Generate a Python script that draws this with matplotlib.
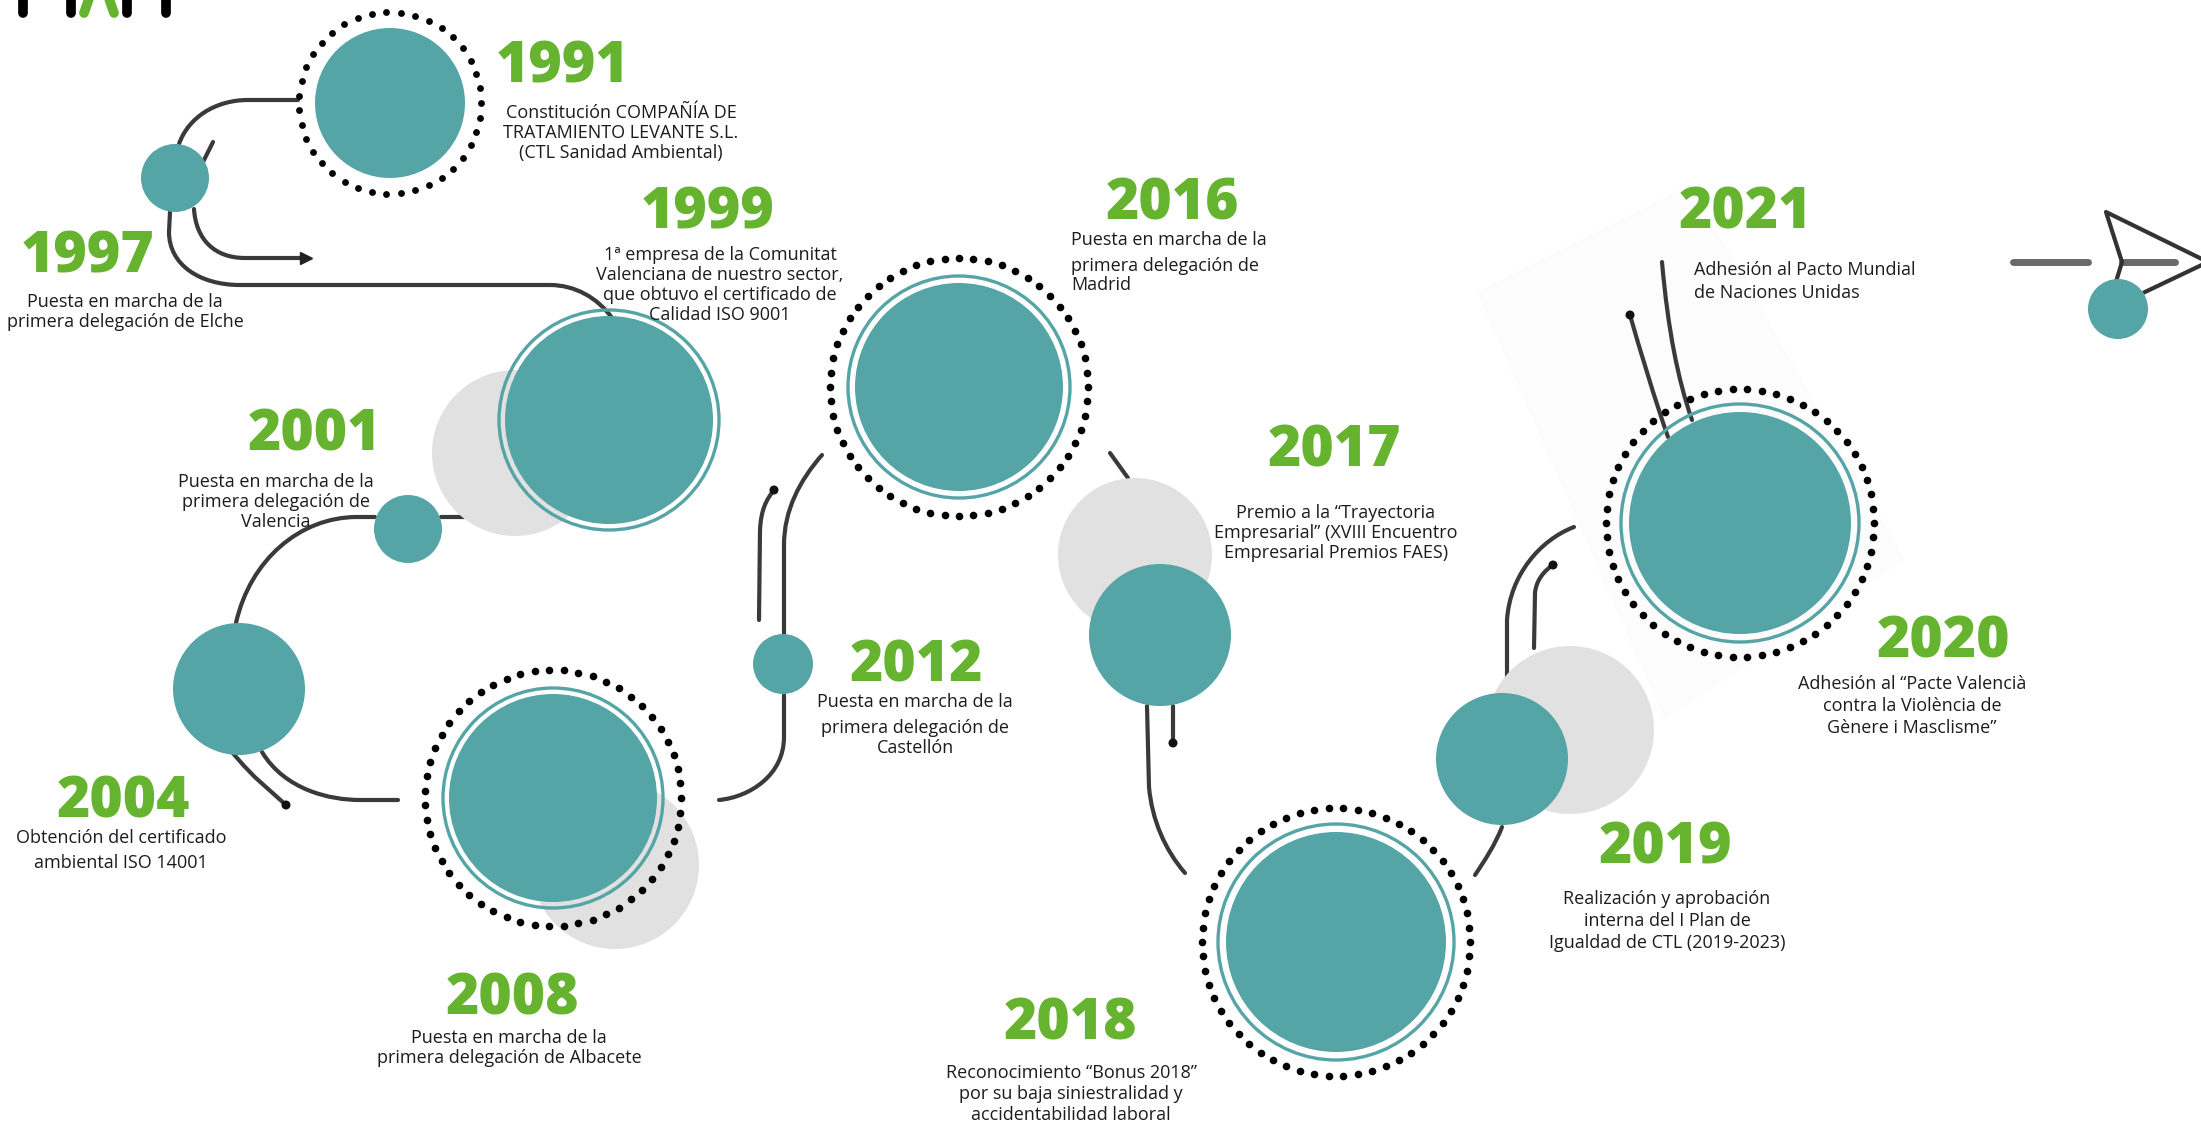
import numpy as np
import matplotlib.pyplot as plt
from matplotlib.patches import Circle, Polygon, PathPatch
from matplotlib.path import Path

# colours
TEAL = '#55a4a6'
GREY = '#e1e1e1'
GREEN = '#65b32e'
LINE = '#3a3a3a'
TXT = '#1c1c1c'

#%% data
years = ['1991', '1997', '1999', '2001', '2004', '2008', '2012',
         '2016', '2017', '2018', '2019', '2020', '2021']

desc_1991 = ['Constitución COMPAÑÍA DE', 'TRATAMIENTO LEVANTE S.L.', '(CTL Sanidad Ambiental)']
desc_1997 = ['Puesta en marcha de la', 'primera delegación de Elche']
desc_1999 = ['1ª empresa de la Comunitat', 'Valenciana de nuestro sector,',
             'que obtuvo el certificado de', 'Calidad ISO 9001']
desc_2001 = ['Puesta en marcha de la', 'primera delegación de', 'Valencia']
desc_2004 = ['Obtención del certificado', 'ambiental ISO 14001']
desc_2008 = ['Puesta en marcha de la', 'primera delegación de Albacete']
desc_2012 = ['Puesta en marcha de la', 'primera delegación de', 'Castellón']
desc_2016 = ['Puesta en marcha de la', 'primera delegación de', 'Madrid']
desc_2017 = ['Premio a la “Trayectoria', 'Empresarial” (XVIII Encuentro',
             'Empresarial Premios FAES)']
desc_2018 = ['Reconocimiento “Bonus 2018”', 'por su baja siniestralidad y',
             'accidentabilidad laboral']
desc_2019 = ['Realización y aprobación', 'interna del I Plan de', 'Igualdad de CTL (2019-2023)']
desc_2020 = ['Adhesión al “Pacte Valencià', 'contra la Violència de', 'Gènere i Masclisme”']
desc_2021 = ['Adhesión al Pacto Mundial', 'de Naciones Unidas']

descs = [desc_1991, desc_1997, desc_1999, desc_2001, desc_2004, desc_2008, desc_2012,
         desc_2016, desc_2017, desc_2018, desc_2019, desc_2020, desc_2021]

#%% layout (pixel positions on the canvas)
year_xy = [(563, 68), (88, 258), (708, 214), (314, 436), (123, 803), (512, 1000), (916, 667),
           (1172, 205), (1334, 452), (1070, 1025), (1665, 849), (1943, 643), (1745, 214)]
desc_x = [621, 125, 720, 276, 121, 509, 915, 1071, 1336, 1071, 1667, 1912, 1694]
desc_ha = ['center'] * 7 + ['left'] + ['center'] * 4 + ['left']
desc_y = [[113, 133, 153], [302, 322], [255, 275, 295, 315], [482, 502, 522], [838, 863],
          [1038, 1058], [702, 728, 748], [240, 266, 285], [513, 533, 553],
          [1073, 1094, 1115], [899, 921, 943], [684, 706, 728], [270, 293]]

# big circles: x, y, r, ring radius (0 = none), dot ring radius (0 = none)
big = [(390, 103, 75, 0, 91), (609, 420, 104, 110, 0), (553, 798, 104, 110, 128),
       (959, 387, 104, 111, 129), (1336, 942, 110, 118, 134), (1740, 523, 111, 119, 134)]
small = [(175, 178, 34), (408, 529, 34), (239, 689, 66), (783, 664, 30),
         (1160, 635, 71), (1502, 759, 66), (2118, 309, 30)]
greys = [(515, 453, 83), (615, 865, 84), (1135, 555, 77), (1570, 730, 84)]

M, L, C = Path.MOVETO, Path.LINETO, Path.CURVE4
connectors = [
    ([(298, 100), (248, 100), (215, 100), (188, 118), (179, 144)], [M, L, C, C, C]),
    ([(203, 162), (213, 142)], [M, L]),
    ([(194, 209), (196, 240), (215, 258), (245, 258), (300, 258)], [M, C, C, C, L]),
    ([(170, 212), (169, 232), (169, 265), (200, 285), (240, 285), (550, 285),
      (575, 285), (598, 298), (612, 318)], [M, L, C, C, C, L, C, C, C]),
    ([(441, 517), (464, 517)], [M, L]),
    ([(375, 517), (357, 517), (300, 517), (250, 560), (236, 623)], [M, L, C, C, C]),
    ([(232, 752), (255, 780), (270, 790), (286, 805)], [M, C, C, C]),
    ([(262, 752), (285, 790), (330, 800), (360, 800), (398, 800)], [M, C, C, C, L]),
    ([(719, 800), (750, 797), (784, 775), (784, 737), (784, 695)], [M, C, C, C, L]),
    ([(784, 634), (784, 545), (784, 510), (800, 480), (822, 455)], [M, L, C, C, C]),
    ([(759, 620), (760, 530), (761, 510), (766, 500), (774, 490)], [M, L, C, C, C]),
    ([(1110, 453), (1128, 478)], [M, L]),
    ([(1147, 706), (1149, 787), (1152, 820), (1165, 850), (1185, 873)], [M, L, C, C, C]),
    ([(1173, 706), (1173, 743)], [M, L]),
    ([(1475, 875), (1485, 860), (1495, 845), (1502, 827)], [M, C, C, C]),
    ([(1507, 693), (1507, 620), (1510, 575), (1540, 540), (1574, 527)], [M, L, C, C, C]),
    ([(1534, 648), (1535, 593), (1536, 580), (1545, 570), (1553, 565)], [M, L, C, C, C]),
    ([(1668, 437), (1655, 400), (1640, 350), (1630, 315)], [M, C, C, C]),
    ([(1692, 420), (1678, 380), (1668, 330), (1662, 262)], [M, C, C, C]),
]
line_ends = [(1173, 743), (774, 490), (1553, 565), (1630, 315), (286, 805)]

#%% figure
W, H = 2201, 1125
fig = plt.figure(figsize=(W / 100, H / 100), dpi=100)
ax = fig.add_axes([0, 0, 1, 1])
ax.set_xlim(0, W)
ax.set_ylim(H, 0)
ax.axis('off')

# faint backdrop behind 2021
ax.add_patch(Polygon([(1477, 292), (1690, 185), (1905, 560), (1665, 720)],
                     closed=True, fc='#fcfcfc', ec='none', zorder=0))

# logo remnant at the top
for x in [23, 71, 127, 166]:
    ax.plot([x, x], [-10, 13], color='black', lw=7, solid_capstyle='round', zorder=1)
ax.plot([92, 84], [-10, 13], color=GREEN, lw=7, solid_capstyle='round', zorder=1)
ax.plot([106, 114], [-10, 13], color=GREEN, lw=7, solid_capstyle='round', zorder=1)

# connectors
for verts, codes in connectors:
    ax.add_patch(PathPatch(Path(verts, codes), fc='none', ec=LINE, lw=3,
                           capstyle='round', zorder=1))
for x, y in line_ends:
    ax.add_patch(Circle((x, y), 4.5, fc='#111111', ec='none', zorder=1))
ax.plot([306], [258], marker='>', ms=9, color='#222222', zorder=1)

# arrow at top right
ax.plot([2013, 2088], [262, 262], color='#6a6a6a', lw=5, solid_capstyle='round', zorder=1)
ax.plot([2122, 2175], [262, 262], color='#6a6a6a', lw=5, solid_capstyle='round', zorder=1)
ax.plot([2115, 2122, 2106, 2208, 2145], [285, 262, 212, 262, 292],
        color='#333333', lw=3, zorder=1)

# circles
for x, y, r in greys:
    ax.add_patch(Circle((x, y), r, fc=GREY, ec='none', zorder=2))
for x, y, r in small:
    ax.add_patch(Circle((x, y), r, fc=TEAL, ec='none', zorder=3))
for x, y, r, ring, dots in big:
    ax.add_patch(Circle((x, y), r, fc=TEAL, ec='none', zorder=3))
    if ring:
        ax.add_patch(Circle((x, y), ring, fill=False, ec=TEAL, lw=2.4, zorder=3))
    if dots:
        n = int(round(2 * np.pi * dots / 14.5))
        t = np.linspace(0, 2 * np.pi, n, endpoint=False)
        size = 24 if r < 90 else 30
        ax.scatter(x + dots * np.cos(t), y + dots * np.sin(t), s=size,
                   color='black', lw=0, zorder=4)

# text
for yr, (x, y) in zip(years, year_xy):
    ax.text(x, y, yr, color=GREEN, fontsize=41, fontweight='heavy',
            family='Open Sans', ha='center', va='center', zorder=5)

for lines, x, ys, ha in zip(descs, desc_x, desc_y, desc_ha):
    for line, y in zip(lines, ys):
        ax.text(x, y, line, color=TXT, fontsize=13, family='Open Sans',
                ha=ha, va='center', zorder=5)

fig.savefig('out.png', dpi=100)
